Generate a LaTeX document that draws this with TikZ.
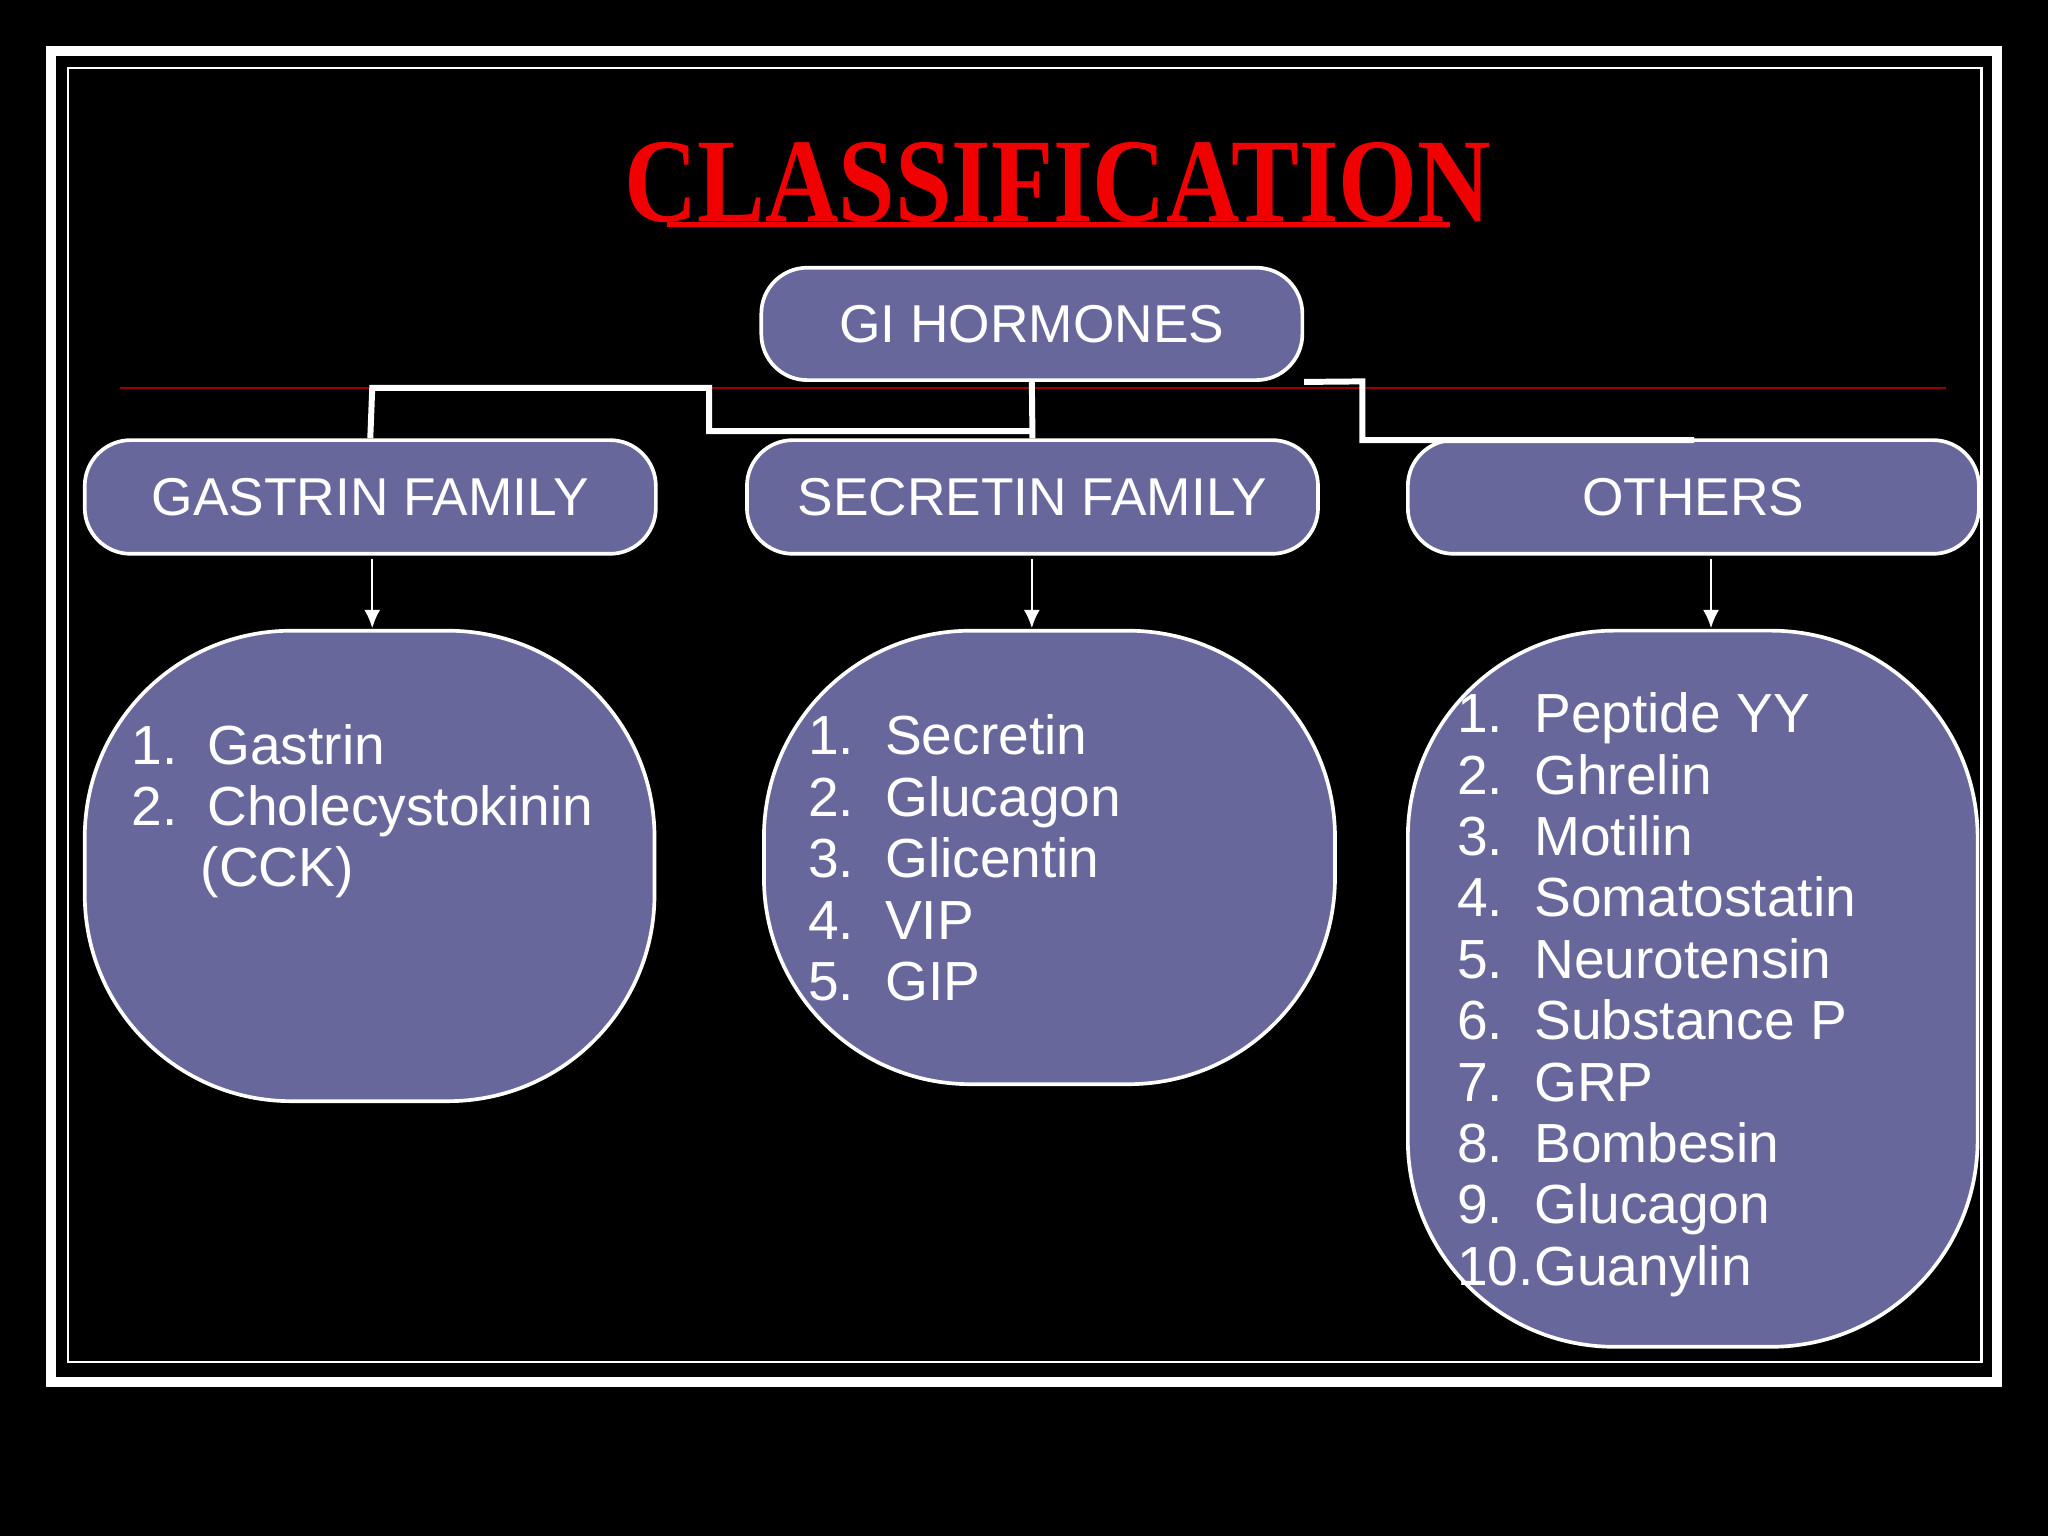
\documentclass[tikz,border=0pt]{standalone}
\usepackage{fontspec}
\setmainfont{Liberation Sans}
\newfontfamily\titlefont{Liberation Serif}
\usetikzlibrary{arrows.meta}
\definecolor{tred}{RGB}{240,0,0}
\definecolor{dred}{RGB}{150,0,0}
\definecolor{boxc}{RGB}{103,103,156}
\begin{document}
\begin{tikzpicture}[x=0.01cm,y=-0.01cm,
  box/.style={draw=white,line width=0.8pt,fill=boxc,rounded corners=10pt},
  lbox/.style={draw=white,line width=0.8pt,fill=boxc,rounded corners=45pt},
  lbl/.style={text=white,font=\fontsize{11.6pt}{13pt}\selectfont},
  it/.style={text=white,anchor=base west,inner sep=0,font=\fontsize{12pt}{13pt}\selectfont},
  conn/.style={draw=white,line width=1.3pt},
  arr/.style={draw=white,line width=0.5pt,-{Latex[length=4pt,width=3.5pt]}}]
\fill[black] (0,0) rectangle (1568,1176);
\useasboundingbox (0,0) rectangle (1568,1176);
\draw[white,line width=2.3pt] (39,39) rectangle (1529,1058);
\draw[white,line width=0.5pt] (52,52) rectangle (1517,1043);
\node[text=tred,font=\titlefont\bfseries\fontsize{26pt}{28pt}\selectfont,xscale=0.85,inner sep=0] (title) at (810,140) {CLASSIFICATION};
\draw[tred,line width=1pt] (511,172) -- (1110,172);
\draw[dred,line width=0.6pt] (92,297) -- (1490,297);
\node[box,minimum width=4.14cm,minimum height=0.86cm,lbl] (gi) at (790,248) {GI HORMONES};
\node[box,minimum width=4.37cm,minimum height=0.87cm,lbl] (gas) at (283.5,380.5) {GASTRIN FAMILY};
\node[box,minimum width=4.37cm,minimum height=0.87cm,lbl] (sec) at (790.5,380.5) {SECRETIN FAMILY};
\node[box,minimum width=4.37cm,minimum height=0.87cm,lbl] (oth) at (1296.5,380.5) {OTHERS};
\coordinate (a1) at (285,297); \coordinate (a2) at (543,297); \coordinate (a3) at (543,330); \coordinate (a4) at (790,330);
\coordinate (b1) at (1043,292); \coordinate (b2) at (1043,337); \coordinate (b3) at (1297,337);
\draw[conn] (gi.south) -- (sec.north);
\draw[conn] (gas.north) -- (a1) -- (a2) -- (a3) -- (a4);
\draw[conn] (gi.south east) -- (b1) -- (b2) -- (b3);
\node[lbox,minimum width=4.36cm,minimum height=3.60cm] (gl) at (283,663) {};
\node[lbox,minimum width=4.37cm,minimum height=3.47cm] (sl) at (803.5,656.5) {};
\node[lbox,minimum width=4.36cm,minimum height=5.48cm] (ol) at (1296,757) {};
\draw[arr] (285,428) -- (285,481);
\draw[arr] (790,428) -- (790,481);
\draw[arr] (1310,428) -- (1310,481);
\node[it] (g1n) at (100,585) {1.}; \node[it] (g1) at (158,585) {Gastrin};
\node[it] (g2n) at (100,632) {2.}; \node[it] (g2) at (158,632) {Cholecystokinin};
\node[it] (g3) at (153,679) {(CCK)};
\foreach \t [count=\i] in {Secretin,Glucagon,Glicentin,VIP,GIP}{
  \node[it] (sn\i) at (618,{578+47*(\i-1)}) {\i.};
  \node[it] (s\i) at (677,{578+47*(\i-1)}) {\t};}
\foreach \t [count=\i] in {Peptide YY,Ghrelin,Motilin,Somatostatin,Neurotensin,Substance P,GRP,Bombesin,Glucagon,Guanylin}{
  \node[it] (on\i) at (1115,{561+47*(\i-1)}) {\i.};
  \node[it] (o\i) at (1174,{561+47*(\i-1)}) {\t};}
\end{tikzpicture}
\end{document}
